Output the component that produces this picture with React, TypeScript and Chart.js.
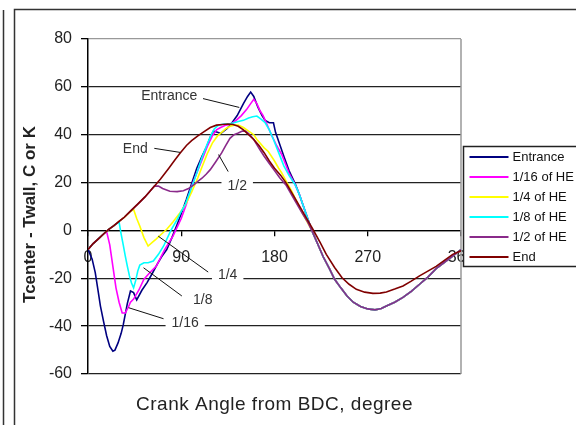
import { useEffect, useRef } from 'react';
import { Chart, registerables } from 'chart.js';

Chart.register(...registerables);

const FONT = "'Liberation Sans', Arial, sans-serif";

// Series names and line colours
const seriesNames = ['Entrance', '1/16 of HE', '1/4 of HE', '1/8 of HE', '1/2 of HE', 'End'];
const seriesColors = ['#000080', '#FF00FF', '#FFFF00', '#00FFFF', '#8A2A8A', '#800000'];

// Shared descent/recovery of the inner-location curves (crank angle, deg / temperature difference)
const tailAngles = [216, 222, 227, 233, 238, 244, 250, 256, 263, 270, 277, 283, 288, 296, 304, 312, 320, 328, 336, 344, 352, 360];
const tailValues = [0, -6, -11, -16, -20.4, -24, -27.4, -30, -31.8, -32.8, -33.2, -32.6, -31.6, -30, -28, -25.5, -22.5, -19.5, -16, -13.3, -10.7, -8];

const entranceAngles = [0, 4, 7, 10, 12, 15, 18, 21, 24, 26, 29, 32, 34, 36, 38, 41, 44, 47, 52, 57, 62, 67, 71, 76, 81, 86, 90, 95, 100, 105, 110, 115, 118, 121, 125, 128, 131, 134, 139, 144, 150, 154, 157, 160, 164, 168, 171, 175, 179, 181, 185, 189, 194, 200, 204, 208, 212];
const entranceValues = [-8, -12, -17.6, -26, -31.6, -38, -44, -48.5, -50.5, -50, -47, -43, -39.5, -35, -30.5, -25.3, -26, -29, -25, -21.8, -18, -14, -11, -8, -3, 2.5, 7, 13, 19.5, 26, 31, 35.5, 39, 41.5, 41, 40.5, 41.5, 42.5, 45, 48, 53, 56, 57.8, 56, 51.5, 48, 46, 45, 45, 41, 36, 31, 25, 19.5, 15, 10, 5];

const sixteenthAngles = [0, 5, 10, 15, 18, 21, 24, 27, 30, 33, 36, 39, 41, 44, 49, 54, 60, 66, 74, 82, 90, 95, 100, 105, 110, 115, 120, 124, 128, 133, 138, 143, 148, 153, 157, 160, 163, 166, 169, 173, 177, 182, 187, 194, 200, 204, 208, 212];
const sixteenthValues = [-8, -5.5, -3.5, -1.5, -0.5, -6, -15, -24, -30, -34.5, -34.5, -32, -30, -28.7, -25, -20.4, -17.5, -14.9, -8, -2.4, 5, 11, 18.5, 24, 29.5, 35, 39.5, 42, 43, 44, 44.5, 46, 48, 50.5, 53, 54.8, 53, 50, 48, 44, 40, 35.5, 31.7, 24, 19, 15, 10, 5];

const quarterAngles = [0, 5, 10, 15, 20, 25, 30, 35, 40, 44, 47, 50, 54, 58, 62, 66, 71, 76, 82, 89, 95, 100, 106, 110, 115, 120, 125, 129, 133, 137, 141, 145, 150, 155, 160, 163, 166, 170, 174, 177, 180, 184, 187, 192, 196, 201, 206, 211];
const quarterValues = [-8, -5.5, -3.5, -1.5, 0.4, 2, 3.8, 5.5, 7.5, 8.8, 5, 1.8, -3, -6.5, -5, -3.5, -1.5, 0.5, 3.5, 7.5, 11.5, 16, 22, 26.5, 32, 36.5, 39.5, 41, 42.5, 43.5, 44, 44, 43, 41.5, 40, 38, 36.5, 34.5, 33, 31, 29, 26, 24, 20, 17, 12.5, 8, 4];

const eighthAngles = [0, 5, 10, 15, 20, 25, 30, 32, 34, 36, 38, 40, 42, 44, 46, 48, 50, 54, 58, 63, 68, 73, 80, 86, 90, 94, 100, 105, 110, 115, 119, 122, 126, 131, 136, 141, 145, 150, 155, 159, 163, 167, 171, 175, 179, 184, 189, 194, 200, 204, 208, 212];
const eighthValues = [-8, -5.5, -3.5, -1.5, 0.4, 2, 3.5, -1.5, -6, -10.7, -15, -19, -22, -24, -21, -17, -14.5, -13.5, -13.5, -12.8, -10, -6.5, 0, 4.5, 8, 11, 18, 24, 30.5, 36, 40, 42.5, 44, 44.5, 44.5, 45, 45.5, 46, 47, 47.5, 47.8, 46.5, 45, 42, 38, 32.5, 27, 23, 19, 15, 10, 5];

const halfAngles = [0, 5, 10, 15, 20, 25, 30, 35, 42, 48, 55, 60, 64, 68, 72, 79, 86, 92, 97, 102, 106, 110, 114, 118, 123, 129, 133, 137, 141, 145, 149, 152, 155, 160, 166, 170, 175, 180, 185, 191, 199, 207, 212];
const halfValues = [-8, -5.5, -3.5, -1.5, 0.4, 2, 3.8, 5.5, 8.5, 11, 14, 16.5, 18.5, 18.5, 17.5, 16.4, 16.2, 16.6, 17.5, 19, 20.5, 21.8, 23.5, 25.4, 28.5, 32.4, 35.5, 38.5, 40, 40.7, 41.5, 41.5, 40.5, 38, 33.7, 31, 28, 25, 22, 19, 13, 7, 3.5];

const endAngles = [0, 5, 10, 15, 20, 25, 30, 35, 42, 48, 55, 60, 64, 70, 78, 84, 89, 95, 100, 106, 111, 118, 124, 130, 135, 140, 145, 150, 155, 160, 165, 170, 175, 180, 186, 191, 199, 205, 211, 217, 224, 230, 238, 245, 252, 259, 267, 275, 282, 288, 296, 304, 312, 320, 328, 336, 344, 352, 360];
const endValues = [-8, -5.5, -3.5, -1.5, 0.4, 2, 3.8, 5.5, 8.5, 11, 14, 16.5, 18.5, 21.5, 26, 29.5, 32.4, 35.5, 37.5, 39.5, 41, 43, 44, 44.3, 44.5, 44.3, 43.5, 42, 40, 38, 35.5, 32.5, 29, 26, 23, 20, 14, 9.5, 5, 0.5, -5, -10, -15.5, -19.7, -22.5, -24.6, -25.8, -26.3, -26.2, -25.7, -24.5, -23.2, -21.2, -19, -17, -15, -12.5, -10, -8.5];

// Axis ranges
const xMin = 0, xMax = 360, xStep = 90;
const yMin = -60, yMax = 80, yStep = 20;

// Text callouts: label anchor and leader line, in data units
const callouts = [
  { text: 'Entrance', at: [78.4, 56], from: [111, 55.1], to: [146, 51.4], box: false },
  { text: 'End', at: [45.6, 33.8], from: [64, 34.3], to: [89, 32.6], box: false },
  { text: '1/2', at: [144, 18.4], from: [135.3, 24.6], to: [126, 31.7], box: true },
  { text: '1/4', at: [134.8, -18.8], from: [116, -17.4], to: [67.8, -2.4], box: true },
  { text: '1/8', at: [110.7, -29.2], from: [90.6, -27.4], to: [53.6, -15.6], box: false },
  { text: '1/16', at: [93.8, -38.6], from: [72.9, -36.9], to: [39.2, -32.3], box: true },
];

const toPoints = (angles: number[], values: number[]) => angles.map((a, i) => ({ x: a, y: values[i] }));

const seriesData = [
  toPoints(entranceAngles.concat(tailAngles), entranceValues.concat(tailValues)),
  toPoints(sixteenthAngles.concat(tailAngles), sixteenthValues.concat(tailValues)),
  toPoints(quarterAngles.concat(tailAngles), quarterValues.concat(tailValues)),
  toPoints(eighthAngles.concat(tailAngles), eighthValues.concat(tailValues)),
  toPoints(halfAngles.concat(tailAngles), halfValues.concat(tailValues)),
  toPoints(endAngles, endValues),
];

const framePlugin = {
  id: 'frame',
  beforeDraw(chart: any) {
    const { ctx, width, height } = chart;
    ctx.save();
    ctx.fillStyle = '#fff';
    ctx.fillRect(0, 0, width, height);
    ctx.strokeStyle = '#333';
    ctx.lineWidth = 1.5;
    ctx.beginPath();
    ctx.moveTo(3.5, 10);
    ctx.lineTo(3.5, height);
    ctx.moveTo(14.5, height);
    ctx.lineTo(14.5, 9.5);
    ctx.lineTo(width, 9.5);
    ctx.stroke();
    ctx.restore();
  },
  beforeDatasetsDraw(chart: any) {
    const { ctx, chartArea } = chart;
    ctx.save();
    ctx.strokeStyle = '#999';
    ctx.lineWidth = 1.5;
    ctx.beginPath();
    ctx.moveTo(chartArea.right, chartArea.top);
    ctx.lineTo(chartArea.right, chartArea.bottom);
    ctx.stroke();
    ctx.restore();
  },
};

const calloutPlugin = {
  id: 'callouts',
  afterDatasetsDraw(chart: any) {
    const { ctx } = chart;
    const sx = chart.scales.x;
    const sy = chart.scales.y;
    ctx.save();
    ctx.font = `14px ${FONT}`;
    ctx.textAlign = 'center';
    ctx.textBaseline = 'middle';
    for (const c of callouts) {
      ctx.strokeStyle = '#111';
      ctx.lineWidth = 1;
      ctx.beginPath();
      ctx.moveTo(sx.getPixelForValue(c.from[0]), sy.getPixelForValue(c.from[1]));
      ctx.lineTo(sx.getPixelForValue(c.to[0]), sy.getPixelForValue(c.to[1]));
      ctx.stroke();
      const tx = sx.getPixelForValue(c.at[0]);
      const ty = sy.getPixelForValue(c.at[1]);
      if (c.box) {
        const w = ctx.measureText(c.text).width + 12;
        ctx.fillStyle = '#fff';
        ctx.fillRect(tx - w / 2, ty - 8, w, 16);
      }
      ctx.fillStyle = '#333';
      ctx.fillText(c.text, tx, ty);
    }
    ctx.restore();
  },
};

const titlesPlugin = {
  id: 'axisTitles',
  afterDraw(chart: any) {
    const { ctx, chartArea } = chart;
    ctx.save();
    ctx.fillStyle = '#222';
    ctx.textAlign = 'center';
    ctx.textBaseline = 'middle';
    ctx.font = `19px ${FONT}`;
    (ctx as any).letterSpacing = '0.5px';
    ctx.fillText('Crank Angle from BDC, degree', (chartArea.left + chartArea.right) / 2, 405);
    (ctx as any).letterSpacing = '0px';
    ctx.translate(30, (chartArea.top + chartArea.bottom) / 2 + 8);
    ctx.rotate(-Math.PI / 2);
    ctx.font = `bold 17px ${FONT}`;
    ctx.fillText('Tcenter - Twall, C or K', 0, 0);
    ctx.restore();
  },
};

const legendPlugin = {
  id: 'boxLegend',
  afterDraw(chart: any) {
    const { ctx, chartArea, width } = chart;
    const left = chartArea.right + 2.5;
    const top = 146.5;
    const h = 120;
    ctx.save();
    ctx.fillStyle = '#fff';
    ctx.fillRect(left, top, width - left + 2, h);
    ctx.strokeStyle = '#222';
    ctx.lineWidth = 1.5;
    ctx.strokeRect(left, top, width - left + 2, h);
    ctx.font = `13px ${FONT}`;
    ctx.textAlign = 'left';
    ctx.textBaseline = 'middle';
    chart.data.datasets.forEach((ds: any, i: number) => {
      const y = top + 10.5 + i * 20;
      ctx.strokeStyle = ds.borderColor;
      ctx.lineWidth = 2;
      ctx.beginPath();
      ctx.moveTo(left + 6, y);
      ctx.lineTo(left + 45, y);
      ctx.stroke();
      ctx.fillStyle = '#111';
      ctx.fillText(ds.label, left + 49, y);
    });
    ctx.restore();
  },
};

export default function App() {
  const canvasRef = useRef<HTMLCanvasElement | null>(null);

  useEffect(() => {
    const canvas = canvasRef.current;
    if (!canvas) return;
    const chart = new Chart(canvas, {
      type: 'line',
      data: {
        datasets: seriesData.map((pts, i) => ({
          label: seriesNames[i],
          data: pts,
          borderColor: seriesColors[i],
          backgroundColor: seriesColors[i],
          borderWidth: 1.6,
          pointRadius: 0,
          tension: 0,
          fill: false,
          order: seriesNames.length - i,
        })),
      },
      options: {
        animation: false,
        responsive: false,
        maintainAspectRatio: false,
        layout: { padding: { left: 8, right: 115, top: 39, bottom: 51 } },
        plugins: {
          legend: { display: false },
          tooltip: { enabled: false },
        },
        scales: {
          x: {
            type: 'linear',
            min: xMin,
            max: xMax,
            position: { y: 0 } as any,
            afterFit: (s: any) => { s.height = 0; },
            ticks: {
              stepSize: xStep,
              autoSkip: false,
              maxRotation: 0,
              padding: 13,
              color: '#222',
              font: { family: FONT, size: 16 },
            },
            grid: { drawOnChartArea: false, drawTicks: true, tickLength: 5, color: '#000', lineWidth: 1.3 },
            border: { display: true, color: '#000', width: 1.3 },
          },
          y: {
            type: 'linear',
            min: yMin,
            max: yMax,
            afterFit: (s: any) => { s.width = 80; },
            ticks: {
              stepSize: yStep,
              padding: 9,
              color: '#222',
              font: { family: FONT, size: 16 },
            },
            grid: {
              color: (ctx: any) => (ctx.tick && ctx.tick.value === yMax ? '#999' : '#222'),
              tickColor: '#000',
              lineWidth: 1.3,
              tickLength: 7,
            },
            border: { display: true, color: '#000', width: 1.5 },
          },
        },
      },
      plugins: [framePlugin, calloutPlugin, titlesPlugin, legendPlugin],
    });
    return () => chart.destroy();
  }, []);

  return (
    <div style={{ position: 'absolute', left: 0, top: 0, width: 576, height: 425, background: '#fff' }}>
      <canvas ref={canvasRef} width={576} height={425} style={{ display: 'block' }} />
    </div>
  );
}
